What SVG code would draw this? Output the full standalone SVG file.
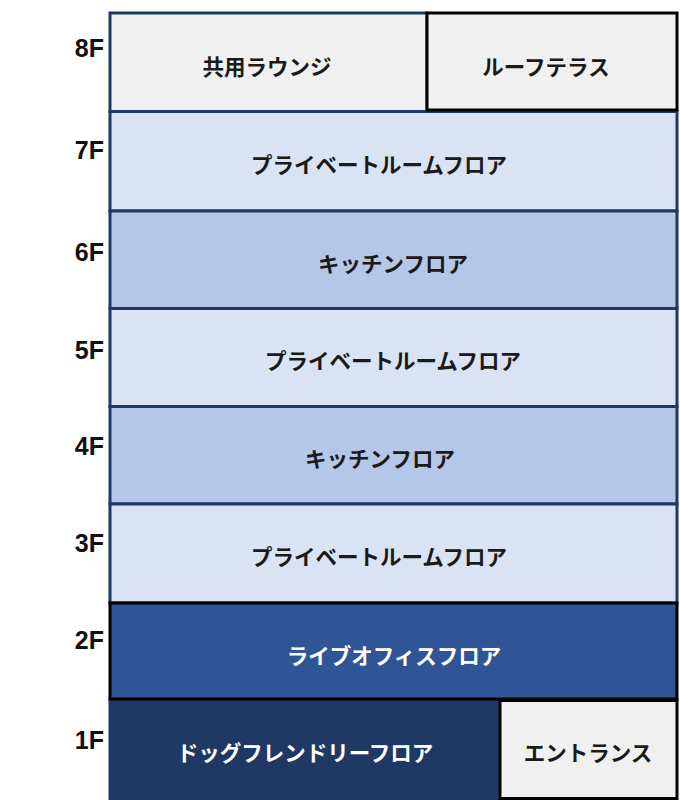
<svg xmlns="http://www.w3.org/2000/svg" width="680" height="800" viewBox="0 0 680 800">
<style>
.lbl{font-family:"Liberation Sans","Noto Sans",sans-serif;font-weight:bold;font-size:25px;fill:#111;text-anchor:end}
.t{font-family:"Noto Sans CJK JP",sans-serif;font-weight:bold;font-size:21.5px;text-anchor:middle;dominant-baseline:central}
.dk{fill:#1a1a1a}
.wt{fill:#ffffff}
.nv{stroke:#1f3864;stroke-width:3}
.bk{stroke:#000000;stroke-width:3}
</style>
<rect width="680" height="800" fill="#ffffff"/>
<g id="labels">
<text class="lbl" x="104" y="57">8F</text>
<text class="lbl" x="104" y="159">7F</text>
<text class="lbl" x="104" y="261">6F</text>
<text class="lbl" x="104" y="359">5F</text>
<text class="lbl" x="104" y="455">4F</text>
<text class="lbl" x="104" y="552">3F</text>
<text class="lbl" x="104" y="649">2F</text>
<text class="lbl" x="104" y="749">1F</text>
</g>
<g id="f7"><rect class="nv" x="110" y="111.5" width="567" height="99.5" fill="#dae3f3"/><text class="t dk" x="379" y="163">プライベートルームフロア</text></g>
<g id="f6"><rect class="nv" x="110" y="211" width="567" height="97.5" fill="#b4c7e7"/><text class="t dk" x="393" y="262">キッチンフロア</text></g>
<g id="f5"><rect class="nv" x="110" y="308.5" width="567" height="98" fill="#dae3f3"/><text class="t dk" x="393" y="359">プライベートルームフロア</text></g>
<g id="f4"><rect class="nv" x="110" y="406.5" width="567" height="97.5" fill="#b4c7e7"/><text class="t dk" x="380" y="457">キッチンフロア</text></g>
<g id="f3"><rect class="nv" x="110" y="504" width="567" height="99" fill="#dae3f3"/><text class="t dk" x="379" y="555">プライベートルームフロア</text></g>
<g id="f8a"><rect class="nv" x="110" y="13" width="317" height="98.5" fill="#f0f0f0"/><text class="t dk" x="267" y="65">共用ラウンジ</text></g>
<g id="f8b"><rect class="bk" x="427" y="13" width="250" height="97" fill="#f0f0f0"/><text class="t dk" x="546" y="65">ルーフテラス</text></g>
<g id="f1a"><rect x="110" y="699" width="389" height="101" fill="#203864" stroke="#1f3864" stroke-width="3"/><text class="t wt" x="305" y="751">ドッグフレンドリーフロア</text></g>
<g id="f2"><rect class="bk" x="110" y="603" width="567" height="96" fill="#2f5597"/><text class="t wt" x="394" y="654">ライブオフィスフロア</text></g>
<g id="f1b"><rect class="bk" x="500" y="700.5" width="177" height="98" fill="#f0f0f0"/><text class="t dk" x="588" y="751">エントランス</text></g>
<g id="connectors"></g>
</svg>
